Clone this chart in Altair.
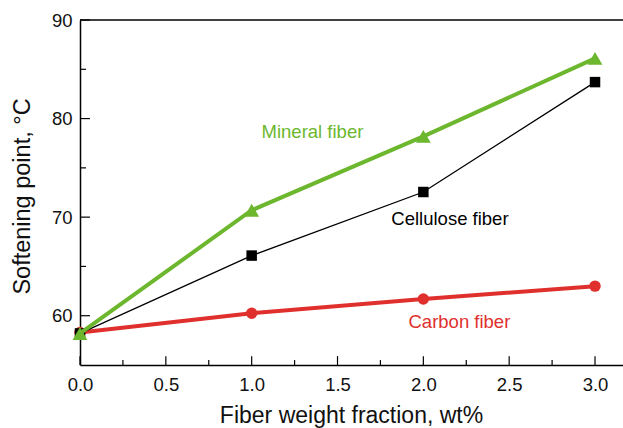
import altair as alt
import pandas as pd

fractions = [0.0, 1.0, 2.0, 3.0]
mineral = [58.2, 70.7, 78.2, 86.1]
cellulose = [58.2, 66.1, 72.55, 83.7]
carbon = [58.3, 60.25, 61.7, 63.0]

series_names = ["Mineral fiber", "Cellulose fiber", "Carbon fiber"]
series_colors = ["#6cb72e", "#000000", "#e0302d"]
label_x = [1.354, 2.155, 2.21]
label_y = [78.6, 69.8, 59.35]

x_major = [0.0, 0.5, 1.0, 1.5, 2.0, 2.5, 3.0]
x_minor = [0.25, 0.75, 1.25, 1.75, 2.25, 2.75]
y_major = [60, 70, 80, 90]
y_minor = [65, 75, 85]

XMAX = 3.163
YMIN, YMAX = 55, 90
FONT = "Liberation Sans"

xs = alt.Scale(domain=[0, XMAX], nice=False, zero=False)
ys = alt.Scale(domain=[YMIN, YMAX], nice=False, zero=False)

x_axis = alt.Axis(values=x_major, format=".1f", ticks=False, grid=False,
                  labelFontSize=18.5, labelFont=FONT, labelColor="#111",
                  labelPadding=10, domainColor="#000", domainWidth=1.5,
                  title="Fiber weight fraction, wt%", titleFont=FONT,
                  titleFontSize=23, titleFontWeight="normal", titleColor="#111",
                  titleX=271, titleY=57, titleBaseline="alphabetic",
                  titleAlign="center", labelFlush=False)
y_axis = alt.Axis(values=y_major, format="d", ticks=False, grid=False,
                  labelFontSize=18.5, labelFont=FONT, labelColor="#111",
                  labelPadding=8, domainColor="#000", domainWidth=1.5,
                  title="Softening point, °C", titleFont=FONT,
                  titleFontSize=23.5, titleFontWeight="normal", titleColor="#111",
                  titleX=-58, titleY=176, titleAngle=270, titleAlign="center",
                  titleBaseline="middle", labelFlush=False)

def X(f):
    return alt.X(f, type="quantitative", scale=xs, axis=x_axis)

def Y(f):
    return alt.Y(f, type="quantitative", scale=ys, axis=y_axis)

base_df = pd.DataFrame({"x": [0.0], "y": [YMIN]})
axes = alt.Chart(base_df).mark_point(opacity=0).encode(x=X("x"), y=Y("y"))

top_df = pd.DataFrame({"x": [0.0], "x2": [XMAX], "y": [YMAX]})
top_line = alt.Chart(top_df).mark_rule(color="#000", strokeWidth=1.5).encode(
    x=X("x"), x2="x2:Q", y=Y("y"))

# inward ticks
xt_major = pd.DataFrame({"x": x_major, "y": YMIN, "y2": YMIN + 0.9})
xt_minor = pd.DataFrame({"x": x_minor, "y": YMIN, "y2": YMIN + 0.5})
yt_major = pd.DataFrame({"y": y_major, "x": 0.0, "x2": 0.058})
yt_minor = pd.DataFrame({"y": y_minor, "x": 0.0, "x2": 0.035})

def xticks(df):
    return alt.Chart(df).mark_rule(color="#000", strokeWidth=1.2).encode(
        x=X("x"), y=Y("y"), y2="y2:Q")

def yticks(df):
    return alt.Chart(df).mark_rule(color="#000", strokeWidth=1.2).encode(
        y=Y("y"), x=X("x"), x2="x2:Q")

def series(vals, color, width, shape, size):
    df = pd.DataFrame({"x": fractions, "y": vals})
    line = alt.Chart(df).mark_line(color=color, strokeWidth=width).encode(
        x=X("x"), y=Y("y"))
    pts = alt.Chart(df).mark_point(shape=shape, filled=True, color=color,
                                   size=size, opacity=1).encode(
        x=X("x"), y=Y("y"))
    return line + pts

labels_df = pd.DataFrame({"x": label_x, "y": label_y, "name": series_names,
                          "c": series_colors})
labels = alt.Chart(labels_df).mark_text(font=FONT, fontSize=18.5).encode(
    x=X("x"), y=Y("y"),
    text="name:N",
    color=alt.Color("c:N", scale=None),
)

chart = alt.layer(
    axes, top_line,
    xticks(xt_major), xticks(xt_minor), yticks(yt_major), yticks(yt_minor),
    series(carbon, series_colors[2], 4, "circle", 130),
    series(cellulose, series_colors[1], 1.3, "square", 110),
    series(mineral, series_colors[0], 4, "triangle-up", 220),
    labels,
).properties(
    width=543, height=345,
    padding={"left": 80, "top": 20, "right": 0, "bottom": 63},
    autosize=alt.AutoSizeParams(type="none"),
    background="white",
).configure_view(strokeWidth=0)

chart.save("out.html", embed_options={"renderer": "svg", "actions": False})
